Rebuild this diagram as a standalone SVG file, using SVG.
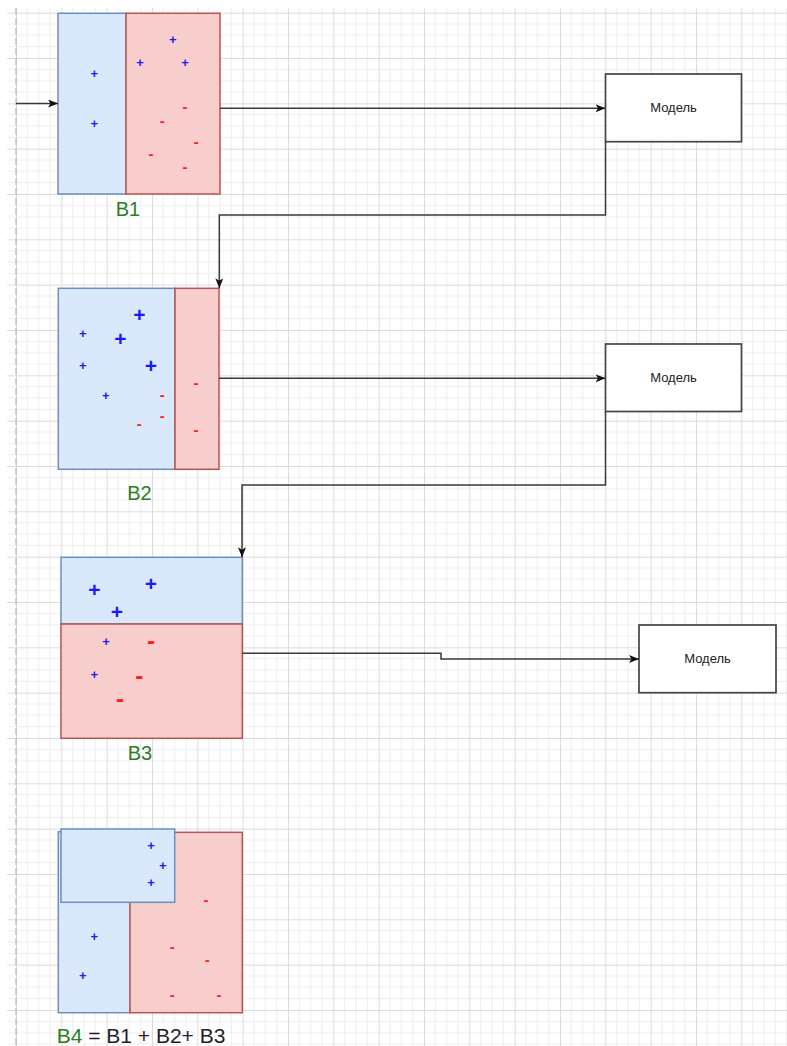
<svg xmlns="http://www.w3.org/2000/svg" width="787" height="1046" viewBox="0 0 787 1046">
  <style>
    .bg { fill: #ffffff; }
    .blue { fill: #dae8fc; stroke: #6c8ebf; stroke-width: 1.5; }
    .red { fill: #f8cecc; stroke: #b85450; stroke-width: 1.5; }
    .model { fill: #ffffff; stroke: #444444; stroke-width: 1.7; }
    .mtxt { font-family: "Liberation Sans", Arial, sans-serif; font-size: 13px; fill: #222222; text-anchor: middle; }
    .lbl { font-family: "Liberation Sans", Arial, sans-serif; font-size: 20px; fill: #2b7d23; text-anchor: middle; }
    .lbl4 { font-family: "Liberation Sans", Arial, sans-serif; font-size: 21px; fill: #1e1e2a; }
    .g { fill: #2b7d23; }
    .p { font-family: "Liberation Sans", Arial, sans-serif; font-size: 13px; font-weight: bold; fill: #1a1aff; text-anchor: middle; }
    .P { font-family: "Liberation Sans", Arial, sans-serif; font-size: 21px; font-weight: bold; fill: #1a1aff; text-anchor: middle; }
    .m { font-family: "Liberation Sans", Arial, sans-serif; font-size: 15px; font-weight: bold; fill: #ff1a1a; text-anchor: middle; }
    .M { font-family: "Liberation Sans", Arial, sans-serif; font-size: 24px; font-weight: bold; fill: #ff1a1a; text-anchor: middle; }
    .edge { fill: none; stroke: #3a3a3a; stroke-width: 1.5; marker-end: url(#arrow); }
  </style>
  <defs>
    <pattern id="grid" x="16" y="12.667" width="45.333" height="45.333" patternUnits="userSpaceOnUse">
      <path d="M11.333,0 V45.333 M22.667,0 V45.333 M34,0 V45.333 M0,11.333 H45.333 M0,22.667 H45.333 M0,34 H45.333" stroke="#eeeeee" stroke-width="1" fill="none"/>
      <path d="M0.5,0 V45.333 M0,0.5 H45.333" stroke="#dcdcdc" stroke-width="1" fill="none"/>
    </pattern>
    <marker id="arrow" viewBox="0 0 10 8" refX="10" refY="4" markerWidth="10" markerHeight="8" markerUnits="userSpaceOnUse" orient="auto">
      <path d="M0,0 L10,4 L0,8 L2.5,4 Z" fill="#111111"/>
    </marker>
  </defs>

  <!-- canvas and grid -->
  <rect class="bg" x="0" y="0" width="787" height="1046"/>
  <rect x="7" y="8" width="780" height="1038" fill="url(#grid)"/>
  <line x1="16" y1="8" x2="16" y2="1046" stroke="#b8b8b8" stroke-width="1.2" stroke-dasharray="7 3"/>

  <!-- B1 -->
  <g id="b1">
    <rect class="blue" x="58" y="13.3" width="68" height="180.7"/>
    <rect class="red" x="126" y="13.3" width="94" height="180.7"/>
    <text class="p" x="94.3" y="78.3">+</text>
    <text class="p" x="94.3" y="127.6">+</text>
    <text class="p" x="172.7" y="43.9">+</text>
    <text class="p" x="140" y="67.3">+</text>
    <text class="p" x="185" y="67.3">+</text>
    <text class="m" x="185" y="112.4">-</text>
    <text class="m" x="162.3" y="125.8">-</text>
    <text class="m" x="196.3" y="147.4">-</text>
    <text class="m" x="151" y="159.1">-</text>
    <text class="m" x="185" y="172.4">-</text>
    <text class="lbl" x="128" y="216">B1</text>
  </g>

  <!-- B2 -->
  <g id="b2">
    <rect class="blue" x="58.3" y="288.3" width="116.7" height="181"/>
    <rect class="red" x="175" y="288.3" width="44" height="181"/>
    <text class="P" x="139.3" y="322.4">+</text>
    <text class="P" x="120.3" y="346.4">+</text>
    <text class="P" x="151" y="373.1">+</text>
    <text class="p" x="82.7" y="337.9">+</text>
    <text class="p" x="82.7" y="370.3">+</text>
    <text class="p" x="105.7" y="399.6">+</text>
    <text class="m" x="162.3" y="400.1">-</text>
    <text class="m" x="162.3" y="421.4">-</text>
    <text class="m" x="139.3" y="429.4">-</text>
    <text class="m" x="196" y="388.4">-</text>
    <text class="m" x="196" y="435.1">-</text>
    <text class="lbl" x="139.5" y="500">B2</text>
  </g>

  <!-- B3 -->
  <g id="b3">
    <rect class="blue" x="61" y="557.3" width="181.3" height="66.7"/>
    <rect class="red" x="61" y="624" width="181.3" height="114.3"/>
    <text class="P" x="94.3" y="596.7">+</text>
    <text class="P" x="151" y="591.4">+</text>
    <text class="P" x="117" y="619.1">+</text>
    <text class="p" x="106" y="645.9">+</text>
    <text class="p" x="94.3" y="679.3">+</text>
    <text class="M" x="151" y="648.9">-</text>
    <text class="M" x="139.3" y="683.9">-</text>
    <text class="M" x="120" y="706.6">-</text>
    <text class="lbl" x="140" y="760">B3</text>
  </g>

  <!-- B4 = B1 + B2 + B3 -->
  <g id="b4">
    <rect class="blue" x="58.3" y="831.7" width="71.7" height="181"/>
    <rect class="red" x="130" y="832.3" width="112.3" height="180.4"/>
    <rect class="blue" x="61" y="829" width="113.7" height="73.3"/>
    <text class="p" x="151" y="849.6">+</text>
    <text class="p" x="162.7" y="869.6">+</text>
    <text class="p" x="151" y="886.9">+</text>
    <text class="p" x="94.3" y="940.6">+</text>
    <text class="p" x="82.7" y="980.3">+</text>
    <text class="m" x="206" y="905.1">-</text>
    <text class="m" x="172.3" y="951.8">-</text>
    <text class="m" x="207.3" y="965.1">-</text>
    <text class="m" x="172.3" y="999.8">-</text>
    <text class="m" x="219" y="999.8">-</text>
    <text class="lbl4" x="56.7" y="1043"><tspan class="g">B4</tspan> = B1 + B2+ B3</text>
  </g>

  <!-- models -->
  <g id="model1">
    <rect class="model" x="605.5" y="74" width="136" height="67.7"/>
    <text class="mtxt" x="673.5" y="112">Модель</text>
  </g>
  <g id="model2">
    <rect class="model" x="605.5" y="344" width="136" height="67.5"/>
    <text class="mtxt" x="673.5" y="382">Модель</text>
  </g>
  <g id="model3">
    <rect class="model" x="639" y="625" width="137" height="67.7"/>
    <text class="mtxt" x="707.5" y="663.3">Модель</text>
  </g>

  <!-- connectors -->
  <g id="connectors">
    <path class="edge" d="M16,103.5 H58"/>
    <path class="edge" d="M220,108.3 H605.5"/>
    <path class="edge" d="M605.5,141.7 V215 H219.3 V288.3"/>
    <path class="edge" d="M219,378.3 H605.5"/>
    <path class="edge" d="M605.5,411.5 V485 H242 V557.3"/>
    <path class="edge" d="M242.3,653.3 H441 V659 H639"/>
  </g>
</svg>
